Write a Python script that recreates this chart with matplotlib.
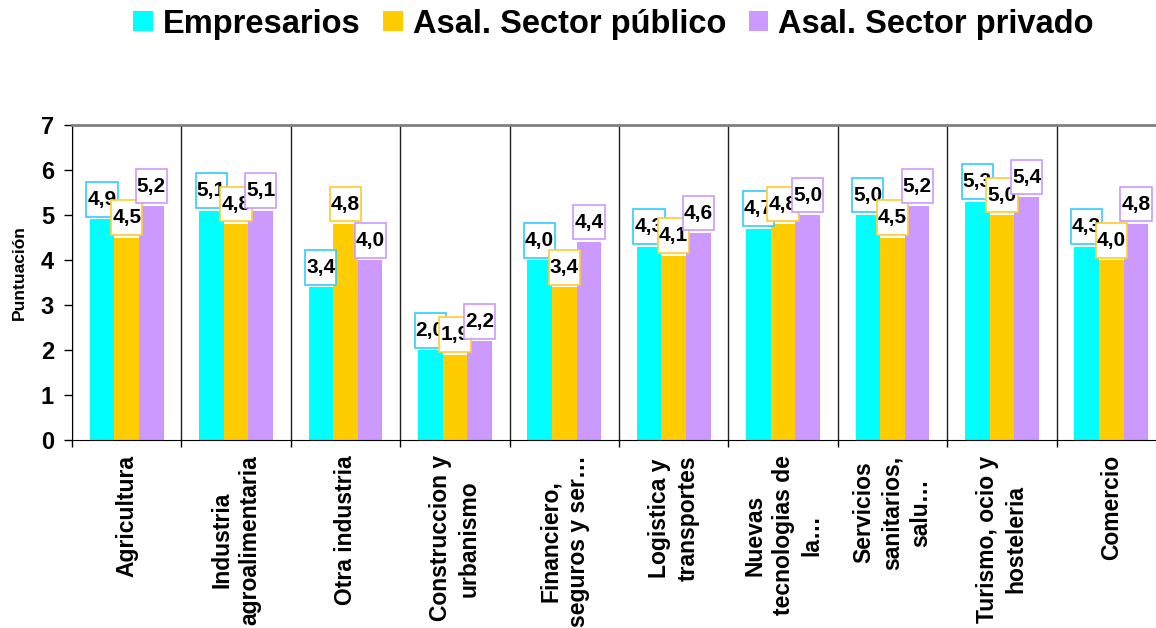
import matplotlib
matplotlib.use('Agg')
import matplotlib.pyplot as plt
import numpy as np
from matplotlib.patches import Patch
from matplotlib.path import Path

categories = [
    "Agricultura",
    "Industria\nagroalimentaria",
    "Otra industria",
    "Construccion y\nurbanismo",
    "Financiero,\nseguros y ser…",
    "Logistica y\ntransportes",
    "Nuevas\ntecnologias de\nla…",
    "Servicios\nsanitarios,\nsalu…",
    "Turismo, ocio y\nhosteleria",
    "Comercio",
]
empresarios = [4.9, 5.1, 3.4, 2.0, 4.0, 4.3, 4.7, 5.0, 5.3, 4.3]
publico = [4.5, 4.8, 4.8, 1.9, 3.4, 4.1, 4.8, 4.5, 5.0, 4.0]
privado = [5.2, 5.1, 4.0, 2.2, 4.4, 4.6, 5.0, 5.2, 5.4, 4.8]
series_names = ["Empresarios", "Asal. Sector público", "Asal. Sector privado"]
yticks = [0, 1, 2, 3, 4, 5, 6, 7]
ylabel = "Puntuación"

plt.rcParams['font.family'] = ['Liberation Sans', 'DejaVu Sans']
plt.rcParams['font.weight'] = 'bold'

W, H = 1156, 628
fig = plt.figure(figsize=(W / 100, H / 100), dpi=100)
ax = fig.add_axes([72 / W, 188 / H, 1094 / W, 315 / H])

colors = ['#00FFFF', '#FFCC00', '#CC99FF']
edgecolors = ['#33CCFF', '#FFCC33', '#CC99FF']
x = np.arange(len(categories))
w = 0.225


def tallbox(x0, y0, width, height, mutation_size):
    px = 0.05 * mutation_size
    py = 0.38 * mutation_size
    xa, xb = x0 - px, x0 + width + px
    ya, yb = y0 - py, y0 + height + py
    return Path([(xa, ya), (xb, ya), (xb, yb), (xa, yb), (xa, ya)], closed=True)


for i, vals in enumerate([empresarios, publico, privado]):
    pos = x + (i - 1) * w
    ax.bar(pos, vals, w, color=colors[i], zorder=2, linewidth=0)
    for xi, v in zip(pos, vals):
        ax.annotate(f"{v:.1f}".replace('.', ','), (xi, v), xytext=(0, 7.5),
                    textcoords='offset points', ha='center', va='bottom',
                    fontsize=15, fontweight='bold', color='black',
                    bbox=dict(boxstyle=tallbox, fc='white',
                              ec=edgecolors[i], lw=1.2),
                    zorder=4, annotation_clip=False)

ax.set_xlim(-0.5, len(categories) - 0.5)
ax.set_ylim(0, 7)
ax.set_yticks(yticks)
ax.set_yticklabels([str(t) for t in yticks], fontsize=17, fontweight='bold')
ax.tick_params(axis='y', direction='out', length=6, width=1, pad=7)

ax.set_xticks(x)
ax.set_xticklabels(categories, rotation=90, fontsize=16.5, fontweight='bold',
                   multialignment='center', linespacing=1.3)
ax.tick_params(axis='x', which='major', length=0, pad=11)
ax.set_xticks(np.arange(-0.5, len(categories), 1), minor=True)
ax.tick_params(axis='x', which='minor', direction='out', length=5, width=1)
ax.grid(which='minor', axis='x', color='#202020', lw=1, zorder=1)
ax.grid(which='major', visible=False)

ax.spines['top'].set_color('#808080')
ax.spines['top'].set_linewidth(2)
ax.spines['right'].set_visible(False)
ax.spines['left'].set_color('black')
ax.spines['bottom'].set_color('black')

ax.set_ylabel(ylabel, fontsize=12.5, fontweight='bold')
ax.yaxis.set_label_coords(-0.041, 0.53)

handles = [Patch(facecolor=c, edgecolor='none') for c in colors]
fig.legend(handles, series_names, loc='center', bbox_to_anchor=(613.5 / W, 1 - 24 / H),
           ncol=3, frameon=False, handlelength=0.6, handleheight=0.6,
           handletextpad=0.3, columnspacing=0.7, borderpad=0,
           prop={'weight': 'bold', 'size': 23.5})

fig.savefig('out.png', dpi=100)
